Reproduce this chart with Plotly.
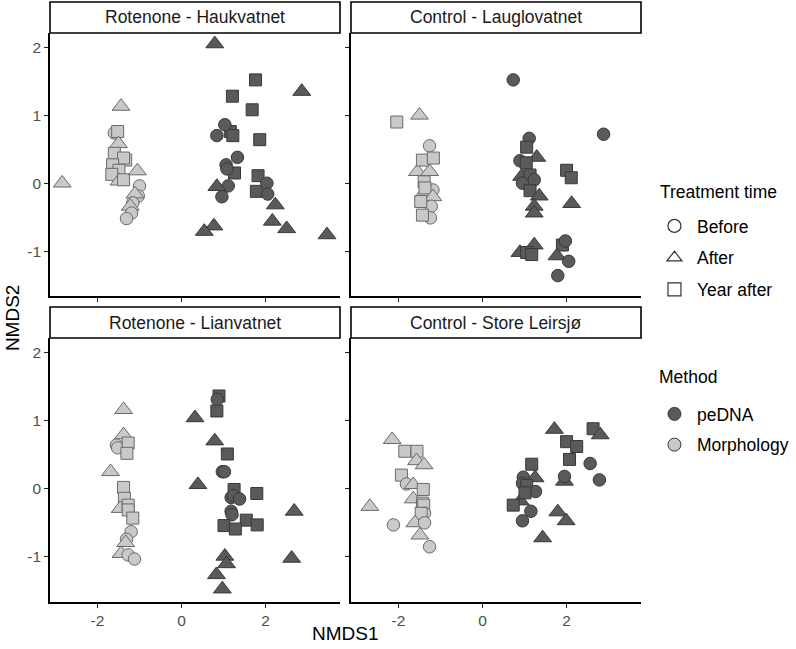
import plotly.graph_objects as go

# NMDS scores, split by sampling method.
# time codes: B = Before, A = After, Y = Year after

# Rotenone - Haukvatnet
hauk_morph_x = [-2.84, -1.44, -1.60, -1.52, -1.50, -1.60, -1.33, -1.38, -1.64, -1.49, -1.66, -1.49, -1.38,
                -1.05, -1.00, -1.03, -1.11, -1.16, -1.22, -1.19, -1.31]
hauk_morph_y = [0.00, 1.13, 0.74, 0.76, 0.58, 0.44, 0.34, 0.37, 0.27, 0.19, 0.13, 0.03, 0.05,
                0.18, -0.04, -0.19, -0.16, -0.29, -0.34, -0.44, -0.52]
hauk_morph_t = ["A", "A", "B", "Y", "A", "Y", "Y", "Y", "Y", "Y", "Y", "A", "Y",
                "A", "B", "B", "A", "B", "A", "B", "B"]
hauk_dna_x = [0.79, 1.76, 1.21, 2.86, 1.68, 1.16, 1.22, 1.03, 0.84, 1.86, 1.33, 1.26, 1.06, 1.08,
              1.82, 1.78, 2.03, 2.05, 1.11, 0.84, 0.96, 2.23, 2.16, 2.50, 0.77, 0.54, 3.46]
hauk_dna_y = [2.05, 1.52, 1.28, 1.35, 1.08, 0.76, 0.70, 0.86, 0.70, 0.64, 0.38, 0.15, 0.27, 0.21,
              0.11, -0.12, 0.00, -0.16, -0.04, -0.05, -0.20, -0.32, -0.56, -0.67, -0.63, -0.71, -0.76]
hauk_dna_t = ["A", "Y", "Y", "A", "Y", "Y", "Y", "B", "B", "Y", "B", "Y", "B", "B",
              "Y", "Y", "B", "B", "B", "A", "B", "A", "A", "A", "A", "A", "A"]

# Control - Lauglovatnet
laug_morph_x = [-2.04, -1.50, -1.26, -1.55, -1.26, -1.43, -1.17, -1.18, -1.40, -1.39, -1.37,
                -1.18, -1.22, -1.47, -1.24, -1.43]
laug_morph_y = [0.90, 1.00, 0.55, 0.17, 0.17, 0.34, 0.37, -0.10, -0.15, 0.02, -0.07,
                -0.20, -0.34, -0.27, -0.51, -0.47]
laug_morph_t = ["Y", "A", "B", "A", "A", "Y", "Y", "B", "A", "Y", "Y",
                "A", "B", "Y", "B", "Y"]
laug_dna_x = [0.73, 2.88, 1.11, 1.05, 1.29, 0.89, 1.04, 2.00, 2.11, 0.93, 1.13, 0.95, 1.23, 1.13,
              1.35, 1.23, 1.23, 2.12, 1.23, 0.89, 1.05, 1.17, 1.90, 1.97, 1.77, 2.05, 1.79]
laug_dna_y = [1.52, 0.72, 0.66, 0.53, 0.38, 0.33, 0.30, 0.19, 0.08, 0.10, 0.12, 0.00, 0.05, -0.11,
              -0.19, -0.34, -0.44, -0.30, -0.91, -1.02, -1.02, -1.05, -0.91, -0.85, -1.07, -1.15, -1.36]
laug_dna_t = ["B", "B", "B", "Y", "A", "B", "Y", "Y", "Y", "A", "Y", "B", "B", "Y",
              "A", "A", "A", "A", "A", "A", "Y", "Y", "Y", "B", "A", "B", "B"]

# Rotenone - Lianvatnet
lian_morph_x = [-1.38, -1.38, -1.55, -1.52, -1.27, -1.30, -1.69, -1.38, -1.36, -1.46, -1.27,
                -1.27, -1.16, -1.20, -1.31, -1.33, -1.44, -1.27, -1.12]
lian_morph_y = [1.16, 0.79, 0.64, 0.60, 0.67, 0.52, 0.25, 0.02, -0.14, -0.29, -0.24,
                -0.31, -0.43, -0.63, -0.74, -0.79, -0.95, -0.97, -1.03]
lian_morph_t = ["A", "A", "B", "B", "Y", "Y", "A", "Y", "Y", "A", "Y",
                "Y", "Y", "B", "B", "A", "A", "B", "B"]
lian_dna_x = [0.89, 0.85, 0.84, 0.32, 0.79, 1.09, 0.97, 1.02, 0.39, 1.25, 1.79, 1.18, 1.23,
              1.38, 1.18, 1.20, 1.54, 1.80, 1.01, 1.28, 2.68, 2.62, 1.03, 1.07, 0.83, 0.97]
lian_dna_y = [1.36, 1.31, 1.14, 1.04, 0.70, 0.51, 0.25, 0.25, 0.06, -0.01, -0.07, -0.13, -0.10,
              -0.15, -0.33, -0.38, -0.46, -0.53, -0.54, -0.59, -0.33, -1.02, -0.99, -1.10, -1.26, -1.47]
lian_dna_t = ["Y", "B", "Y", "A", "A", "Y", "B", "B", "A", "Y", "Y", "B", "B",
              "B", "B", "B", "Y", "Y", "Y", "Y", "A", "A", "A", "A", "A", "A"]

# Control - Store Leirsjø
leir_morph_x = [-2.68, -2.15, -1.85, -1.56, -1.57, -1.39, -1.93, -1.81, -1.65, -1.41, -1.65,
                -1.43, -1.40, -1.38, -1.46, -2.12, -1.61, -1.38, -1.49, -1.26]
leir_morph_y = [-0.26, 0.72, 0.55, 0.55, 0.41, 0.35, 0.20, 0.07, 0.06, -0.01, -0.15,
                -0.21, -0.24, -0.36, -0.36, -0.53, -0.50, -0.50, -0.68, -0.85]
leir_morph_t = ["A", "A", "Y", "Y", "A", "A", "Y", "B", "A", "Y", "A",
                "Y", "Y", "B", "Y", "B", "A", "B", "A", "B"]
leir_dna_x = [1.71, 2.63, 2.80, 2.00, 2.24, 2.07, 2.56, 2.78, 1.95, 1.95, 1.17, 1.25, 0.97,
              0.95, 1.05, 1.26, 0.90, 1.01, 0.73, 1.15, 0.95, 1.79, 1.99, 1.43]
leir_dna_y = [0.87, 0.88, 0.79, 0.69, 0.62, 0.43, 0.37, 0.13, 0.11, 0.18, 0.36, 0.16, 0.17,
              0.08, 0.05, -0.04, -0.18, -0.06, -0.24, -0.33, -0.47, -0.34, -0.47, -0.72]
leir_dna_t = ["A", "Y", "A", "Y", "Y", "Y", "B", "B", "A", "B", "Y", "A", "B",
              "B", "Y", "B", "A", "Y", "Y", "B", "B", "A", "A", "A"]

panel_titles = ["Rotenone - Haukvatnet", "Control - Lauglovatnet",
                "Rotenone - Lianvatnet", "Control - Store Leirsjø"]
time_labels = {"B": "Before", "A": "After", "Y": "Year after"}
method_labels = ["peDNA", "Morphology"]

DARK = "#5a5a5a"
LIGHT = "#c9c9c9"
symbols = {"B": "circle", "A": "triangle-up", "Y": "square"}
sizes = {"B": 12.5, "A": 15.5, "Y": 12}

panels = [
    (hauk_morph_x, hauk_morph_y, hauk_morph_t, hauk_dna_x, hauk_dna_y, hauk_dna_t),
    (laug_morph_x, laug_morph_y, laug_morph_t, laug_dna_x, laug_dna_y, laug_dna_t),
    (lian_morph_x, lian_morph_y, lian_morph_t, lian_dna_x, lian_dna_y, lian_dna_t),
    (leir_morph_x, leir_morph_y, leir_morph_t, leir_dna_x, leir_dna_y, leir_dna_t),
]

# pixel layout of the 796x649 figure
W, H = 796, 649
ML, MR, MT, MB = 50, 153, 2, 47
pw, ph = W - ML - MR, H - MT - MB
xdom = [[0, 291 / pw], [302 / pw, 1]]
strip_h = 31 / ph
ydom_top = [(602 - 296) / ph, (602 - 33) / ph]
ydom_bot = [0, (602 - 338) / ph]
XR = [-3.13, 3.77]
YR = [-1.66, 2.21]

fig = go.Figure()

# axis ids: panel 0 top-left, 1 top-right, 2 bottom-left, 3 bottom-right
for i, (mx, my, mt, dx, dy, dt) in enumerate(panels):
    n = i + 1
    xs = mx + dx
    ys = my + dy
    ts = mt + dt
    cols = [LIGHT] * len(mx) + [DARK] * len(dx)
    lines = ["#6a6a6a"] * len(mx) + ["#383838"] * len(dx)
    fig.add_trace(go.Scatter(
        x=xs, y=ys, mode="markers",
        xaxis="x" if n == 1 else "x%d" % n,
        yaxis="y" if n == 1 else "y%d" % n,
        marker=dict(symbol=[symbols[t] for t in ts],
                    size=[sizes[t] for t in ts], opacity=1,
                    color=cols, line=dict(color=lines, width=1)),
        showlegend=False, hoverinfo="x+y",
    ))

# legend entries
for k, code in enumerate(["B", "A", "Y"]):
    fig.add_trace(go.Scatter(
        x=[None], y=[None], mode="markers", name=time_labels[code],
        marker=dict(symbol=symbols[code], size=13, color="white",
                    line=dict(color="#333333", width=1.2)),
        legend="legend", legendgroup="t%d" % k,
    ))
for k, (lab, col) in enumerate(zip(method_labels, [DARK, LIGHT])):
    fig.add_trace(go.Scatter(
        x=[None], y=[None], mode="markers", name=lab,
        marker=dict(symbol="circle", size=13, color=col,
                    line=dict(color="#383838", width=1)),
        legend="legend2", legendgroup="m%d" % k,
    ))

tickfont = dict(family="Liberation Sans, Arial", size=15.5, color="#4d4d4d")
axes = {}
for i in range(4):
    n = i + 1
    top = i < 2
    left = i % 2 == 0
    xd = xdom[0] if left else xdom[1]
    yd = ydom_top if top else ydom_bot
    xk = "xaxis" if n == 1 else "xaxis%d" % n
    yk = "yaxis" if n == 1 else "yaxis%d" % n
    axes[xk] = dict(domain=xd, range=XR, anchor="y" if n == 1 else "y%d" % n,
                    tickvals=[-2, 0, 2], ticktext=["-2", "0", "2"],
                    showticklabels=not top, ticks="outside", ticklen=4, tickwidth=1.3,
                    tickcolor="#222222", showline=True, linecolor="black", linewidth=1.6,
                    showgrid=False, zeroline=False, tickfont=tickfont, fixedrange=True)
    axes[yk] = dict(domain=yd, range=YR, anchor="x" if n == 1 else "x%d" % n,
                    tickvals=[-1, 0, 1, 2], ticktext=["-1", "0", "1", "2"],
                    showticklabels=left, ticks="outside", ticklen=4, tickwidth=1.3,
                    tickcolor="#222222", showline=True, linecolor="black", linewidth=1.6,
                    showgrid=False, zeroline=False, tickfont=tickfont, fixedrange=True)

# facet strips
shapes = []
annotations = []
for i, title in enumerate(panel_titles):
    top = i < 2
    left = i % 2 == 0
    xd = xdom[0] if left else xdom[1]
    y0 = ydom_top[1] if top else ydom_bot[1]
    shapes.append(dict(type="rect", xref="paper", yref="paper",
                       x0=xd[0], x1=xd[1], y0=y0, y1=y0 + strip_h,
                       fillcolor="white", line=dict(color="black", width=1.6)))
    annotations.append(dict(text=title, xref="paper", yref="paper",
                            x=(xd[0] + xd[1]) / 2, y=y0 + strip_h / 2,
                            showarrow=False, xanchor="center", yanchor="middle",
                            font=dict(family="Liberation Sans, Arial", size=17.5, color="#1a1a1a")))

axfont = dict(family="Liberation Sans, Arial", size=19, color="black")
annotations.append(dict(text="NMDS1", xref="paper", yref="paper",
                        x=(346 - ML) / pw, y=(602 - 633) / ph, showarrow=False,
                        xanchor="center", yanchor="middle", font=axfont))
annotations.append(dict(text="NMDS2", xref="paper", yref="paper",
                        x=(13 - ML) / pw, y=(602 - 318) / ph, showarrow=False, textangle=-90,
                        xanchor="center", yanchor="middle", font=axfont))

legfont = dict(family="Liberation Sans, Arial", size=17.5, color="black")
# legend titles drawn as text so their gap to the keys matches the original
annotations.append(dict(text="Treatment time", xref="paper", yref="paper",
                        x=(660 - ML) / pw, y=(602 - 192) / ph, showarrow=False,
                        xanchor="left", yanchor="middle", font=legfont))
annotations.append(dict(text="Method", xref="paper", yref="paper",
                        x=(659 - ML) / pw, y=(602 - 377) / ph, showarrow=False,
                        xanchor="left", yanchor="middle", font=legfont))

fig.update_layout(
    width=W, height=H,
    margin=dict(l=ML, r=MR, t=MT, b=MB),
    paper_bgcolor="white", plot_bgcolor="white",
    shapes=shapes, annotations=annotations,
    legend=dict(x=(654 - ML) / pw, y=(602 - 208) / ph, xanchor="left", yanchor="top",
                font=legfont, itemwidth=35, tracegroupgap=6, bgcolor="rgba(0,0,0,0)"),
    legend2=dict(x=(654 - ML) / pw, y=(602 - 396) / ph, xanchor="left", yanchor="top",
                 font=legfont, itemwidth=35, tracegroupgap=5, bgcolor="rgba(0,0,0,0)"),
    **axes,
)

fig.write_html("out.html", config={"displayModeBar": False},
               post_script="document.body.style.margin='0';")
